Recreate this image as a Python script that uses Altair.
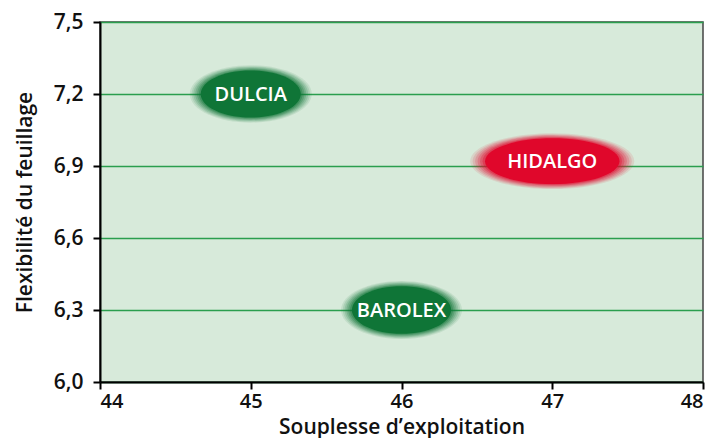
import altair as alt
import pandas as pd

# data
varieties = ["DULCIA", "HIDALGO", "BAROLEX"]
souplesse = [45.0, 47.0, 46.0]
flexibilite = [7.2, 6.92, 6.3]

# styles (kept apart from data)
colors = {"DULCIA": "#0f7537", "HIDALGO": "#e0072b", "BAROLEX": "#0f7537"}
widths = {"DULCIA": 122, "HIDALGO": 164, "BAROLEX": 121}
ratios = {"DULCIA": 0.47, "HIDALGO": 0.34, "BAROLEX": 0.48}
layers = [(1.00, 0.10), (0.97, 0.13), (0.94, 0.16), (0.91, 0.2), (0.88, 0.26),
          (0.85, 0.35), (0.82, 1.0)]

rows = []
for li, (sc, op) in enumerate(layers):
    for v, xv, yv in zip(varieties, souplesse, flexibilite):
        r = ratios[v]
        path = f"M-1,0A1,{r},0,1,0,1,0A1,{r},0,1,0,-1,0Z"
        w = widths[v] * sc
        rows.append({"variete": v, "x": xv, "y": yv, "layer": li,
                     "path": path, "sz": w * w, "col": colors[v], "op": op})
blobs = pd.DataFrame(rows)
labels = pd.DataFrame({"variete": varieties, "x": souplesse, "y": flexibilite})

FONT = "Open Sans"

xenc = alt.X("x:Q", scale=alt.Scale(domain=[44, 48], nice=False, zero=False),
             axis=alt.Axis(values=[44, 45, 46, 47, 48], format="d", grid=False,
                           title="Souplesse d’exploitation", domainColor="black",
                           domainWidth=2, tickColor="black", tickWidth=2, tickSize=7,
                           labelFontSize=20, labelFont=FONT, labelColor="#111",
                           labelFontWeight=600, labelPadding=2,
                           titleFontSize=21, titleFont=FONT, titleFontWeight=600,
                           titleColor="#111", titleBaseline="alphabetic", titleY=51))
yenc = alt.Y("y:Q", scale=alt.Scale(domain=[6.0, 7.5], nice=False, zero=False),
             axis=alt.Axis(values=[6.0, 6.3, 6.6, 6.9, 7.2, 7.5],
                           labelExpr="replace(format(datum.value, '.1f'), '.', ',')",
                           grid=True, gridColor="#2a9e4e", gridWidth=1.6,
                           title="Flexibilité du feuillage", domainColor="black",
                           domainWidth=2, tickColor="black", tickWidth=2, tickSize=7,
                           labelFontSize=21, labelFont=FONT, labelColor="#111",
                           labelFontWeight=600, labelPadding=10,
                           titleFontSize=21, titleFont=FONT, titleFontWeight=600,
                           titleColor="#111", titlePadding=18))

blob = alt.Chart(blobs).mark_point(filled=True, strokeWidth=0).encode(
    x=xenc, y=yenc,
    shape=alt.Shape("path:N", scale=None),
    size=alt.Size("sz:Q", scale=None),
    color=alt.Color("col:N", scale=None),
    opacity=alt.Opacity("op:Q", scale=None),
    order=alt.Order("layer:Q"),
)

text = alt.Chart(labels).mark_text(color="white", fontSize=20, font=FONT,
                                   fontWeight=600, baseline="middle", dy=1).encode(
    x="x:Q", y="y:Q", text="variete:N")

chart = (blob + text).properties(
    width=603, height=360,
    background="white",
    padding={"left": 92, "top": 14, "right": 5, "bottom": 56},
    autosize=alt.AutoSizeParams(type="none"),
).configure_view(fill="#d7eada", stroke="#444", strokeWidth=1.5)

chart.save("out.html", embed_options={"renderer": "svg", "actions": False})
